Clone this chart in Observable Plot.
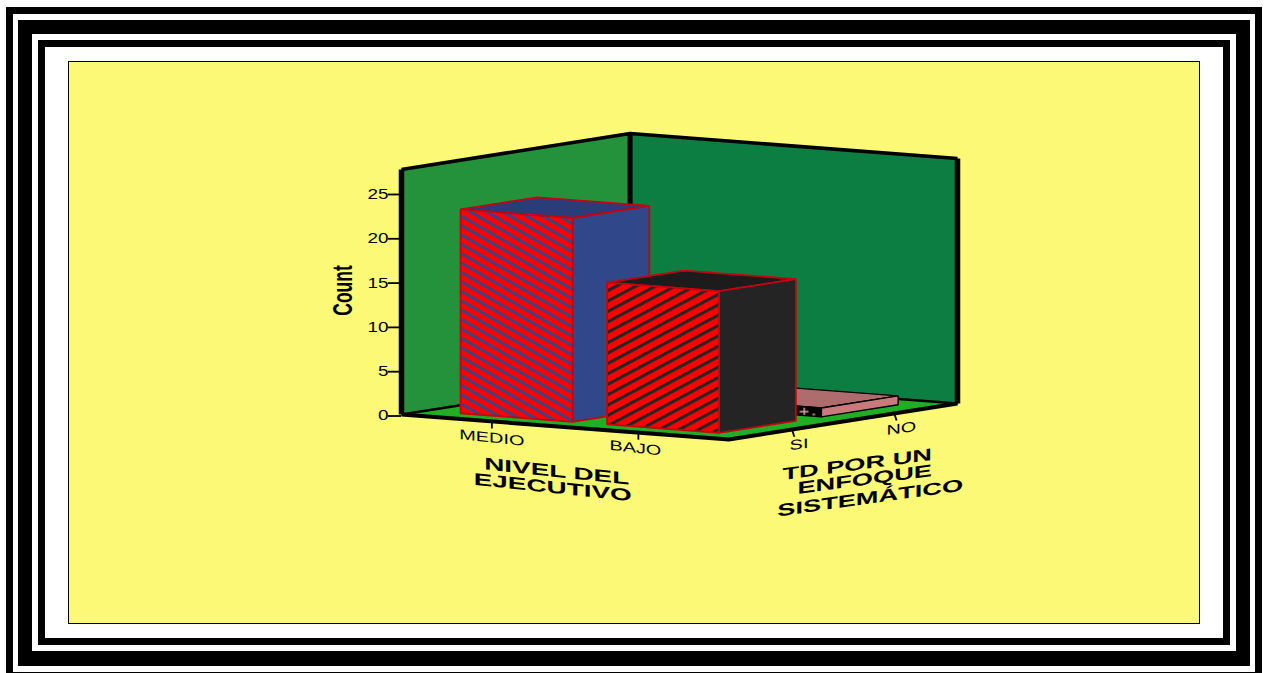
<!DOCTYPE html>
<html>
<head>
<meta charset="utf-8">
<script src="https://cdn.jsdelivr.net/npm/d3@7"></script>
<script src="https://cdn.jsdelivr.net/npm/@observablehq/plot@0.6"></script>
<style>
  html, body { margin: 0; padding: 0; width: 1269px; height: 673px; overflow: hidden; background: #fff; }
  .band { position: absolute; box-sizing: border-box; }
  #chart { position: absolute; left: 0; top: 0; }
</style>
</head>
<body>
<div id="frame"></div>
<div id="chart"></div>
<script>
// Counts by executive level and by whether a systematic approach is used
const nivelCategories = ["MEDIO", "BAJO"];
const enfoqueCategories = ["SI", "NO"];
const countsSi = [23, 16];
const countsNo = [0, 1];
const countTicks = [0, 5, 10, 15, 20, 25];
const countLabel = "Count";
const nivelTitle = ["NIVEL DEL", "EJECUTIVO"];
const enfoqueTitle = ["TD POR UN", "ENFOQUE", "SISTEMÁTICO"];

// Nested picture frame, outermost first: [left, top, right, bottom, colour]
const frameBands = [
  [6, 7, 1262, 690, "#000"],
  [13, 14, 1255, 672, "#fff"],
  [18, 20, 1250, 666, "#000"],
  [32, 34, 1236, 651, "#fff"],
  [38, 40, 1230, 645, "#000"],
  [45, 47, 1223, 638, "#fff"],
  [68, 61, 1200, 624, "#000"],
  [69, 62, 1199, 623, "#fbf976"]
];
const frame = document.getElementById("frame");
for (const [l, t, r, b, c] of frameBands) {
  const band = document.createElement("div");
  band.className = "band";
  band.style.cssText = `left:${l}px;top:${t}px;width:${r - l}px;height:${b - t}px;background:${c}`;
  frame.appendChild(band);
}

// Oblique projection of the 3D box. u runs along the level axis, v along the
// approach axis, both 0..1; z is a count. The result is in Plot's x and y units.
const yMax = 27.65;
const unitPx = 245 / yMax;
const boxWidthPx = 557;
const uStep = [328, 25];
const vStep = [229, -36];
const project = (u, v, z = 0) => ({
  x: (u * uStep[0] + v * vStep[0]) / boxWidthPx,
  y: z + (-u * uStep[1] - v * vStep[1]) / unitPx
});

// Each bar occupies a band centred on its tick
const centre = (i) => 0.276 + 0.4475 * i;
const halfU = 0.171;
const halfV = 0.168;

// One closed polygon
const face = (corners, options) =>
  Plot.line(corners.map((c) => project(...c)), {
    x: "x", y: "y", curve: "linear-closed", strokeLinejoin: "miter", ...options
  });
// One open black edge of the box
const edge = (points, strokeWidth) =>
  Plot.line(points.map((p) => project(...p)), {
    x: "x", y: "y", stroke: "#000", strokeWidth, strokeLinecap: "butt", strokeLinejoin: "round"
  });

function bar(i, j, count, s) {
  const u0 = centre(i) - halfU, u1 = centre(i) + halfU;
  const v0 = centre(j) - halfV, v1 = centre(j) + halfV;
  const line = { stroke: s.stroke, strokeWidth: s.strokeWidth };
  return [
    face([[u0, v1, count], [u1, v1, count], [u1, v0, count], [u0, v0, count]], { fill: s.top, ...line }),
    face([[u1, v0, 0], [u1, v1, 0], [u1, v1, count], [u1, v0, count]], { fill: s.side, ...line }),
    face([[u0, v0, 0], [u1, v0, 0], [u1, v0, count], [u0, v0, count]], { fill: s.front, ...line })
  ];
}

const barStyles = {
  "0,0": { front: "url(#hatch-medio)", side: "#30488a", top: "#2b3d79", stroke: "#c80010", strokeWidth: 1.8 },
  "1,0": { front: "url(#hatch-bajo)", side: "#242424", top: "#1c1c1c", stroke: "#c80010", strokeWidth: 1.8 },
  "1,1": { front: "url(#hatch-plus)", side: "#c87a7c", top: "#ae6c6c", stroke: "#000", strokeWidth: 1.4 }
};

// Painted back to front
const table = [countsNo, countsSi];
const barMarks = [];
for (const [row, j] of [[0, 1], [1, 0]]) {
  nivelCategories.forEach((_, i) => {
    const count = table[row][i];
    if (count > 0) barMarks.push(...bar(i, j, count, barStyles[`${i},${j}`]));
  });
}

const tickDrop = -0.8;
const tickU = nivelCategories.map((_, i) => centre(i));
const tickV = enfoqueCategories.map((_, j) => centre(j));

const chart = Plot.plot({
  width: 1269,
  height: 673,
  marginLeft: 401,
  marginRight: 312,
  marginTop: 169,
  marginBottom: 259,
  style: { background: "transparent", fontFamily: "Liberation Sans, Arial, sans-serif", color: "#000" },
  x: { domain: [0, 1], axis: null },
  y: { domain: [0, yMax], axis: null },
  marks: [
    // Walls and floor
    face([[0, 0, 0], [0, 1, 0], [0, 1, yMax], [0, 0, yMax]], { fill: "#24923a" }),
    face([[0, 1, 0], [1, 1, 0], [1, 1, yMax], [0, 1, yMax]], { fill: "#0c7e42" }),
    face([[0, 0, 0], [1, 0, 0], [1, 1, 0], [0, 1, 0]], { fill: "#1fae24" }),
    edge([[0, 0, 0], [0, 1, 0], [1, 1, 0]], 2.4),
    edge([[0, 1, 0], [0, 1, yMax]], 5),
    edge([[0, 0, yMax], [0, 1, yMax], [1, 1, yMax]], 3.6),
    edge([[0, 0, 0], [0, 0, yMax]], 5.5),
    edge([[1, 1, 0], [1, 1, yMax]], 5.5),
    edge([[0, 0, 0], [1, 0, 0], [1, 1, 0]], 4),

    // Count axis on the left wall
    Plot.axisY({
      anchor: "left", ticks: countTicks, tickSize: 13, tickPadding: 0, label: null,
      fontSize: 14, dy: 1.5, strokeWidth: 1.8, stroke: "#000", fill: "#000", tickFormat: (d) => `${d}`
    }),
    Plot.text([countLabel], {
      x: () => 0, y: () => 14, text: (d) => d, dx: -58, fontSize: 17.5, fontWeight: "bold", fill: "#000"
    }),

    ...barMarks,

    // Category ticks and labels along the two floor edges
    ...tickU.map((u) => Plot.link([0], {
      x1: () => project(u, 0).x, y1: () => project(u, 0).y,
      x2: () => project(u, 0).x, y2: () => project(u, 0, tickDrop).y,
      stroke: "#000", strokeWidth: 1.8
    })),
    ...tickV.map((v) => Plot.link([0], {
      x1: () => project(1, v).x, y1: () => project(1, v).y,
      x2: () => project(1, v).x + 2.3 / boxWidthPx, y2: () => project(1, v, tickDrop).y,
      stroke: "#000", strokeWidth: 1.8
    })),
    Plot.text(nivelCategories, {
      x: (d, i) => project(tickU[i], 0).x, y: (d, i) => project(tickU[i], 0).y,
      text: (d) => d, dy: 16.5, fontSize: 14, fill: "#000"
    }),
    Plot.text(enfoqueCategories, {
      x: (d, j) => project(1, tickV[j]).x, y: (d, j) => project(1, tickV[j]).y,
      text: (d) => d, dx: 7, dy: 15, fontSize: 14, fill: "#000"
    }),

    // Axis titles, one text per line
    Plot.text(nivelTitle, {
      x: () => project(0.5, 0).x, y: () => project(0.5, 0).y,
      text: (d) => d, fontSize: 17, fontWeight: "bold", fill: "#000"
    }),
    Plot.text(enfoqueTitle, {
      x: () => project(1, 0.5).x, y: () => project(1, 0.5).y,
      text: (d) => d, fontSize: 17, fontWeight: "bold", fill: "#000"
    })
  ]
});

// Hatch fills for the bar fronts
const defs = d3.select(chart).insert("defs", ":first-child");
function stripes(id, ink, angle, offset, period, thickness) {
  const p = defs.append("pattern").attr("id", id).attr("patternUnits", "userSpaceOnUse")
    .attr("width", 24).attr("height", period)
    .attr("patternTransform", `translate(0,${offset}) skewY(${angle})`);
  p.append("rect").attr("width", 24).attr("height", period).attr("fill", "#fe0000");
  p.append("rect").attr("width", 24).attr("height", thickness).attr("fill", ink);
}
stripes("hatch-medio", "#30488a", 30, 4.2, 9.4, 3.2);
stripes("hatch-bajo", "#242424", -28, 8.1, 10.4, 3.5);
const plus = defs.append("pattern").attr("id", "hatch-plus").attr("patternUnits", "userSpaceOnUse")
  .attr("x", 795).attr("y", 400).attr("width", 40).attr("height", 24);
plus.append("rect").attr("width", 40).attr("height", 24).attr("fill", "#050505");
plus.append("rect").attr("x", 4).attr("y", 10.5).attr("width", 9).attr("height", 1.4).attr("fill", "#f0a8b0");
plus.append("rect").attr("x", 8).attr("y", 7).attr("width", 1.4).attr("height", 8).attr("fill", "#f0a8b0");
plus.append("rect").attr("x", 17).attr("y", 13).attr("width", 2.5).attr("height", 2.5).attr("fill", "#c87a7c");

// The chart's lettering is stretched sideways and sheared along the floor edges
const textShape = {
  MEDIO: [1.42, 0.105], BAJO: [1.42, 0.105, -3, -1], SI: [1.42, -0.13], NO: [1.42, -0.13],
  "NIVEL DEL": [1.64, 0.105, -8.5, 44.5], EJECUTIVO: [1.64, 0.105, -12.5, 60.5],
  "TD POR UN": [1.6, -0.133, 14, 43], ENFOQUE: [1.6, -0.133, 21.5, 58], "SISTEMÁTICO": [1.6, -0.14, 27, 76.5]
};
d3.select(chart).selectAll("text").each(function () {
  const el = d3.select(this);
  const label = this.textContent.trim();
  const old = el.attr("transform") || "";
  if (label === countLabel) {
    el.attr("transform", `${old} scale(1.6,1) rotate(-90)`);
  } else if (textShape[label]) {
    const [sx, slope, dx = 0, dy = 0] = textShape[label];
    el.attr("transform", `${old} translate(${dx},${dy}) matrix(${sx},${sx * slope},0,1,0,0)`);
  } else if (/^\d+$/.test(label)) {
    el.attr("transform", `${old} scale(1.35,1)`);
  }
});

document.getElementById("chart").appendChild(chart);
</script>
</body>
</html>
